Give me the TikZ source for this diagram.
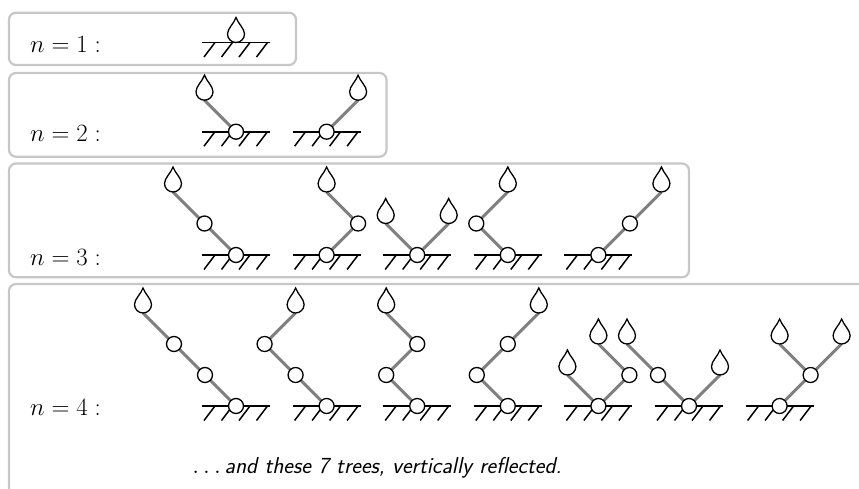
\documentclass[tikz,border=0pt]{standalone}
\usepackage{fontspec}
\usetikzlibrary{calc}
\tikzset{
  frame/.style={draw=black!22, line width=2.2pt, rounded corners=7pt},
  link/.style={draw=black!50, line width=3pt},
  inner/.style={circle, draw=black, fill=white, line width=1.3pt, minimum size=15pt, inner sep=0pt},
  gndline/.style={draw=black, line width=1.8pt},
  hatch/.style={draw=black, line width=1.5pt},
  lbl/.style={anchor=base west, inner sep=0pt, font=\fontsize{24}{30}\selectfont},
  note/.style={anchor=base, inner sep=0pt, font=\fontsize{23}{27}\selectfont\sffamily\itshape},
  drop/.pic={\draw[black, fill=white, line width=1.3pt]
     (0,-25) .. controls (-2,-19) and (-8.5,-14) .. (-8.5,-8.5)
     .. controls (-8.5,-3.8) and (-4.7,0) .. (0,0)
     .. controls (4.7,0) and (8.5,-3.8) .. (8.5,-8.5)
     .. controls (8.5,-14) and (2,-19) .. (0,-25) -- cycle;}
}
\newcommand\gnd[1]{%
  \draw[gndline] ($(#1)+(-34,0)$) -- ($(#1)+(34,0)$);
  \foreach \d in {0,17.5,35,52.5}{\draw[hatch] ($(#1)+(-32+\d,14.5)$) -- ++(11,-14.5);}}
\begin{document}
\begin{tikzpicture}[x=1pt,y=-1pt]
\useasboundingbox (0,0) rectangle (859,489);
\begin{scope}
\clip (0,0) rectangle (859,489);
% frames
\draw[frame] (9,12.7) rectangle (296,65);
\draw[frame] (9,73) rectangle (386.5,156.7);
\draw[frame] (9,163.5) rectangle (689,277.3);
\draw[frame] (9,284) rectangle (900,540);
\end{scope}
% labels
\node[lbl] (L1) at (30,52.3) {$n=1:$};
\node[lbl] (L2) at (30,141.7) {$n=2:$};
\node[lbl] (L3) at (30,265) {$n=3:$};
\node[lbl] (L4) at (30,415.5) {$n=4:$};
\node[note] (N) at (377,473.3) {$\ldots$\,and these 7 trees, vertically reflected.};
% ---------- coordinates
% n=1
\coordinate (a1) at (236,42.5);
% n=2
\coordinate (b1r) at (236,131.7);   \coordinate (b1l) at (204.5,100.2);
\coordinate (b2r) at (326.6,131.7); \coordinate (b2l) at (358.1,100.2);
% n=3
\coordinate (c1r) at (236,255);   \coordinate (c1m) at (204.5,223.5); \coordinate (c1l) at (173,192);
\coordinate (c2r) at (326.6,255); \coordinate (c2m) at (358.1,223.5); \coordinate (c2l) at (326.6,192);
\coordinate (c3r) at (417.2,255); \coordinate (c3a) at (385.7,223.5); \coordinate (c3b) at (448.7,223.5);
\coordinate (c4r) at (507.8,255); \coordinate (c4m) at (476.3,223.5); \coordinate (c4l) at (507.8,192);
\coordinate (c5r) at (598.4,255); \coordinate (c5m) at (629.9,223.5); \coordinate (c5l) at (661.4,192);
% n=4
\coordinate (d1r) at (236,406);   \coordinate (d1m) at (205,375);   \coordinate (d1n) at (174,344);   \coordinate (d1l) at (143,313);
\coordinate (d2r) at (326.6,406); \coordinate (d2m) at (295.6,375); \coordinate (d2n) at (264.6,344); \coordinate (d2l) at (295.6,313);
\coordinate (d3r) at (417.2,406); \coordinate (d3m) at (386.2,375); \coordinate (d3n) at (417.2,344); \coordinate (d3l) at (386.2,313);
\coordinate (d4r) at (507.8,406); \coordinate (d4m) at (476.8,375); \coordinate (d4n) at (507.8,344); \coordinate (d4l) at (538.8,313);
\coordinate (d5r) at (598.4,406); \coordinate (d5a) at (567.4,375); \coordinate (d5m) at (629.4,375); \coordinate (d5b) at (598.4,344);
\coordinate (d6r) at (689,406);   \coordinate (d6m) at (658,375);   \coordinate (d6a) at (627,344);   \coordinate (d6b) at (720,375);
\coordinate (d7r) at (779.6,406); \coordinate (d7m) at (810.6,375); \coordinate (d7a) at (779.6,344); \coordinate (d7b) at (841.6,344);
% ---------- grounds
\foreach \g in {a1,b1r,b2r,c1r,c2r,c3r,c4r,c5r,d1r,d2r,d3r,d4r,d5r,d6r,d7r}{\gnd{\g}}
% ---------- links
\draw[link] (b1r) -- (b1l);
\draw[link] (b2r) -- (b2l);
\draw[link] (c1r) -- (c1m) -- (c1l);
\draw[link] (c2r) -- (c2m) -- (c2l);
\draw[link] (c3a) -- (c3r) -- (c3b);
\draw[link] (c4r) -- (c4m) -- (c4l);
\draw[link] (c5r) -- (c5m) -- (c5l);
\draw[link] (d1r) -- (d1m) -- (d1n) -- (d1l);
\draw[link] (d2r) -- (d2m) -- (d2n) -- (d2l);
\draw[link] (d3r) -- (d3m) -- (d3n) -- (d3l);
\draw[link] (d4r) -- (d4m) -- (d4n) -- (d4l);
\draw[link] (d5a) -- (d5r) -- (d5m) -- (d5b);
\draw[link] (d6a) -- (d6m) -- (d6r) -- (d6b);
\draw[link] (d7r) -- (d7m) -- (d7a); \draw[link] (d7m) -- (d7b);
% ---------- inner nodes
\foreach \p in {b1r,b2r,c1r,c1m,c2r,c2m,c3r,c4r,c4m,c5r,c5m,d1r,d1m,d1n,d2r,d2m,d2n,d3r,d3m,d3n,d4r,d4m,d4n,d5r,d5m,d6r,d6m,d7r,d7m}{\node[inner] (\p c) at (\p) {};}
% ---------- leaves
\foreach \p in {a1,b1l,b2l,c1l,c2l,c3a,c3b,c4l,c5l,d1l,d2l,d3l,d4l,d5a,d5b,d6a,d6b,d7a,d7b}{\pic at (\p) {drop};}
\end{tikzpicture}
\end{document}
